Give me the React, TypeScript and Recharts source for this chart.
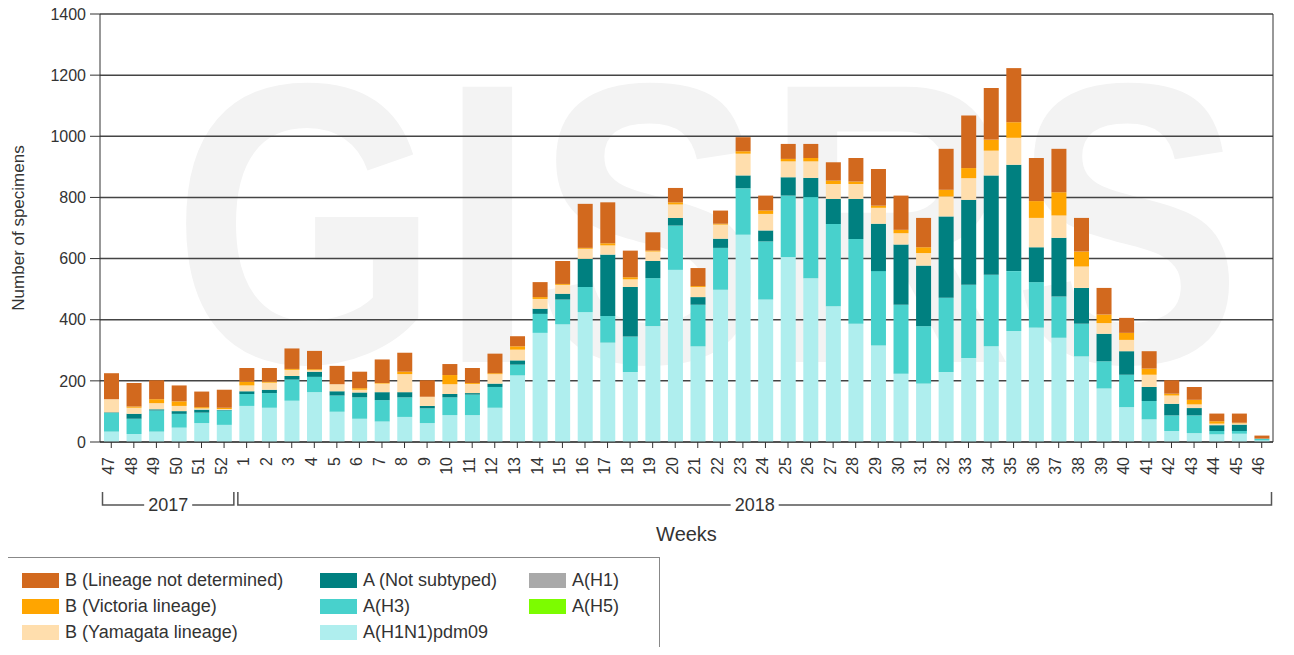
import { Bar, BarChart, CartesianGrid, XAxis, YAxis } from "recharts";

// Influenza positive specimens by subtype, week 47/2017 - week 46/2018
const weeks = [
  "47", "48", "49", "50", "51", "52",
  "1", "2", "3", "4", "5", "6", "7", "8", "9", "10", "11", "12", "13", "14", "15", "16",
  "17", "18", "19", "20", "21", "22", "23", "24", "25", "26", "27", "28", "29", "30", "31",
  "32", "33", "34", "35", "36", "37", "38", "39", "40", "41", "42", "43", "44", "45", "46",
];

const yearSpans = [
  { year: "2017", first: "47", last: "52" },
  { year: "2018", first: "1", last: "46" },
];

const h1n1 = [
  34, 26, 34, 47, 62, 56,
  118, 112, 135, 163, 99, 76, 67, 82, 62, 88, 88, 112, 218, 357, 385, 425,
  325, 229, 379, 563, 313, 498, 678, 466, 605, 536, 444, 387, 316, 223, 191,
  229, 275, 313, 363, 374, 341, 280, 175, 114, 74, 36, 29, 25, 27, 5,
];
const h3 = [
  61, 50, 69, 45, 34, 47,
  39, 48, 69, 50, 53, 70, 70, 64, 48, 58, 67, 68, 35, 62, 81, 82,
  87, 116, 157, 145, 136, 137, 152, 190, 201, 265, 269, 277, 243, 226, 188,
  243, 239, 234, 196, 149, 135, 107, 89, 106, 60, 51, 58, 11, 9, 6,
];
const notSubtyped = [
  2, 16, 4, 9, 10, 2,
  9, 11, 12, 17, 14, 16, 26, 17, 8, 11, 5, 11, 14, 17, 19, 92,
  201, 162, 56, 25, 25, 30, 42, 36, 60, 63, 82, 131, 155, 197, 198,
  266, 278, 325, 348, 114, 192, 117, 90, 77, 46, 38, 24, 19, 21, 0,
];
const h1 = [
  0, 0, 0, 0, 0, 0,
  0, 0, 0, 0, 0, 0, 0, 0, 0, 0, 0, 0, 0, 0, 0, 0,
  0, 0, 0, 0, 0, 0, 0, 0, 0, 0, 0, 0, 0, 0, 0,
  0, 0, 0, 0, 0, 0, 0, 0, 0, 0, 0, 0, 0, 0, 0,
];
const h5 = [
  0, 0, 0, 0, 0, 0,
  0, 0, 0, 0, 0, 0, 0, 0, 0, 0, 0, 0, 0, 0, 0, 0,
  0, 0, 0, 0, 0, 0, 0, 0, 0, 0, 0, 0, 0, 0, 0,
  0, 0, 0, 0, 0, 0, 0, 0, 0, 0, 0, 0, 0, 0, 0,
];
const yamagata = [
  43, 20, 20, 17, 4, 3,
  19, 23, 20, 5, 23, 9, 28, 59, 30, 32, 30, 31, 35, 32, 29, 33,
  30, 25, 31, 44, 33, 46, 71, 54, 52, 54, 49, 49, 52, 37, 41,
  65, 71, 81, 88, 96, 73, 70, 35, 37, 40, 27, 12, 5, 4, 0,
];
const victoria = [
  0, 4, 13, 15, 4, 4,
  12, 3, 3, 3, 0, 5, 2, 8, 0, 30, 3, 3, 11, 6, 3, 3,
  7, 7, 3, 7, 3, 3, 8, 11, 8, 11, 11, 8, 7, 11, 19,
  22, 33, 36, 51, 55, 76, 49, 28, 23, 20, 6, 15, 8, 2, 0,
];
const lineageNotDetermined = [
  85, 77, 62, 52, 51, 59,
  45, 45, 67, 60, 60, 54, 77, 62, 54, 36, 49, 64, 33, 49, 75, 144,
  134, 87, 60, 47, 59, 43, 46, 49, 49, 46, 60, 77, 120, 112, 96,
  134, 172, 169, 177, 141, 142, 110, 87, 49, 57, 44, 42, 25, 30, 10,
];

const yTicks = [0, 200, 400, 600, 800, 1000, 1200, 1400];

// stacking order, bottom to top
const series = [
  { key: "h1n1", name: "A(H1N1)pdm09", color: "#afeeee", values: h1n1 },
  { key: "h3", name: "A(H3)", color: "#48d1cc", values: h3 },
  { key: "notSubtyped", name: "A (Not subtyped)", color: "#008080", values: notSubtyped },
  { key: "h1", name: "A(H1)", color: "#a9a9a9", values: h1 },
  { key: "h5", name: "A(H5)", color: "#7cfc00", values: h5 },
  { key: "yamagata", name: "B (Yamagata lineage)", color: "#ffdead", values: yamagata },
  { key: "victoria", name: "B (Victoria lineage)", color: "#ffa500", values: victoria },
  { key: "bnd", name: "B (Lineage not determined)", color: "#d2691e", values: lineageNotDetermined },
];

// legend columns as in the original box
const legendColumns = [
  ["bnd", "victoria", "yamagata"],
  ["notSubtyped", "h3", "h1n1"],
  ["h1", "h5"],
];

const data = weeks.map((week, i) => {
  const row: { [key: string]: string | number } = { week };
  series.forEach((s) => {
    row[s.key] = s.values[i];
  });
  return row;
});

const WIDTH = 1294;
const LEFT = 100;
const RIGHT = 21;
const BAND = (WIDTH - LEFT - RIGHT) / weeks.length;
const TEXT = "#333";

const WeekTick = ({ x, y, payload }: any) => (
  <text
    x={x}
    y={y}
    transform={`rotate(-90, ${x}, ${y})`}
    textAnchor="end"
    dy="0.17em"
    fontSize={16}
    fill={TEXT}
  >
    {payload.value}
  </text>
);

// draws the whole year bracket from the first week of each year
const YearTick = ({ x, y, payload }: any) => {
  const span = yearSpans.find((s) => s.first === payload.value);
  if (!span) return null;
  const n = weeks.indexOf(span.last) - weeks.indexOf(span.first) + 1;
  const left = x - BAND / 2 + 2.5;
  const right = x - BAND / 2 + n * BAND - 1.5;
  const mid = (left + right) / 2;
  const top = y + 10;
  const ly = y + 23;
  const gap = 24;
  return (
    <g>
      <path
        d={`M${left},${top}V${ly}H${mid - gap}M${mid + gap},${ly}H${right}V${top}`}
        stroke="#555"
        strokeWidth={1.5}
        fill="none"
      />
      <text x={mid} y={ly} dy="0.35em" textAnchor="middle" fontSize={18} fill={TEXT}>
        {span.year}
      </text>
    </g>
  );
};

export default function App() {
  return (
    <div
      style={{
        position: "relative",
        margin: -8,
        width: WIDTH,
        height: 655,
        overflow: "hidden",
        background: "#fff",
        fontFamily: "'Liberation Sans', Arial, sans-serif",
      }}
    >
      {/* faint GISRS watermark */}
      <div
        style={{
          position: "absolute",
          top: 0,
          left: 172,
          fontSize: 400,
          fontWeight: "bold",
          lineHeight: 1.12,
          color: "#f3f3f3",
          whiteSpace: "nowrap",
          transform: "scaleX(0.86)",
          transformOrigin: "0 0",
        }}
      >
        GISRS
      </div>

      <div style={{ position: "absolute", top: 0, left: 0 }}>
        <BarChart
          width={WIDTH}
          height={545}
          data={data}
          margin={{ top: 14, right: 0, bottom: 0, left: 0 }}
          barSize={15}
        >
          <CartesianGrid vertical={false} stroke="#444" strokeWidth={1.5} />
          <XAxis
            dataKey="week"
            interval={0}
            height={40}
            tickSize={6}
            tickMargin={9}
            tick={<WeekTick />}
            stroke="#333"
          />
          <XAxis
            xAxisId="year"
            dataKey="week"
            interval={0}
            height={63}
            tickSize={0}
            tickMargin={0}
            tickLine={false}
            axisLine={false}
            tick={<YearTick />}
            label={{ value: "Weeks", position: "insideBottom", offset: 4, fontSize: 20, fill: TEXT }}
          />
          <YAxis
            width={LEFT}
            domain={[0, 1400]}
            ticks={yTicks}
            interval={0}
            tickSize={10}
            tickMargin={4}
            stroke="#333"
            tick={{ fontSize: 16, fill: TEXT }}
            label={{
              value: "Number of specimens",
              angle: -90,
              position: "insideLeft",
              offset: 18,
              fontSize: 17,
              fill: TEXT,
              style: { textAnchor: "middle" },
            }}
          />
          <YAxis
            yAxisId="right"
            orientation="right"
            width={RIGHT}
            domain={[0, 1400]}
            tick={false}
            tickLine={false}
            stroke="#333"
          />
          {series.map((s) => (
            <Bar
              key={s.key}
              dataKey={s.key}
              name={s.name}
              stackId="flu"
              fill={s.color}
              isAnimationActive={false}
            />
          ))}
        </BarChart>
      </div>

      {/* legend box */}
      <div
        style={{
          position: "absolute",
          left: 0,
          top: 557,
          width: 660,
          height: 97,
          boxSizing: "border-box",
          border: "1.5px solid #888",
          background: "#fff",
        }}
      >
        {legendColumns.map((col, ci) =>
          col.map((key, ri) => {
            const s = series.find((item) => item.key === key)!;
            return (
              <div
                key={key}
                style={{
                  position: "absolute",
                  left: [21, 319, 528][ci],
                  top: 11 + ri * 26,
                  display: "flex",
                  alignItems: "center",
                  height: 22,
                  fontSize: 18,
                  color: TEXT,
                  whiteSpace: "nowrap",
                }}
              >
                <span style={{ display: "inline-block", width: 37, height: 15, background: s.color, marginRight: 6 }} />
                {s.name}
              </div>
            );
          })
        )}
      </div>
    </div>
  );
}
